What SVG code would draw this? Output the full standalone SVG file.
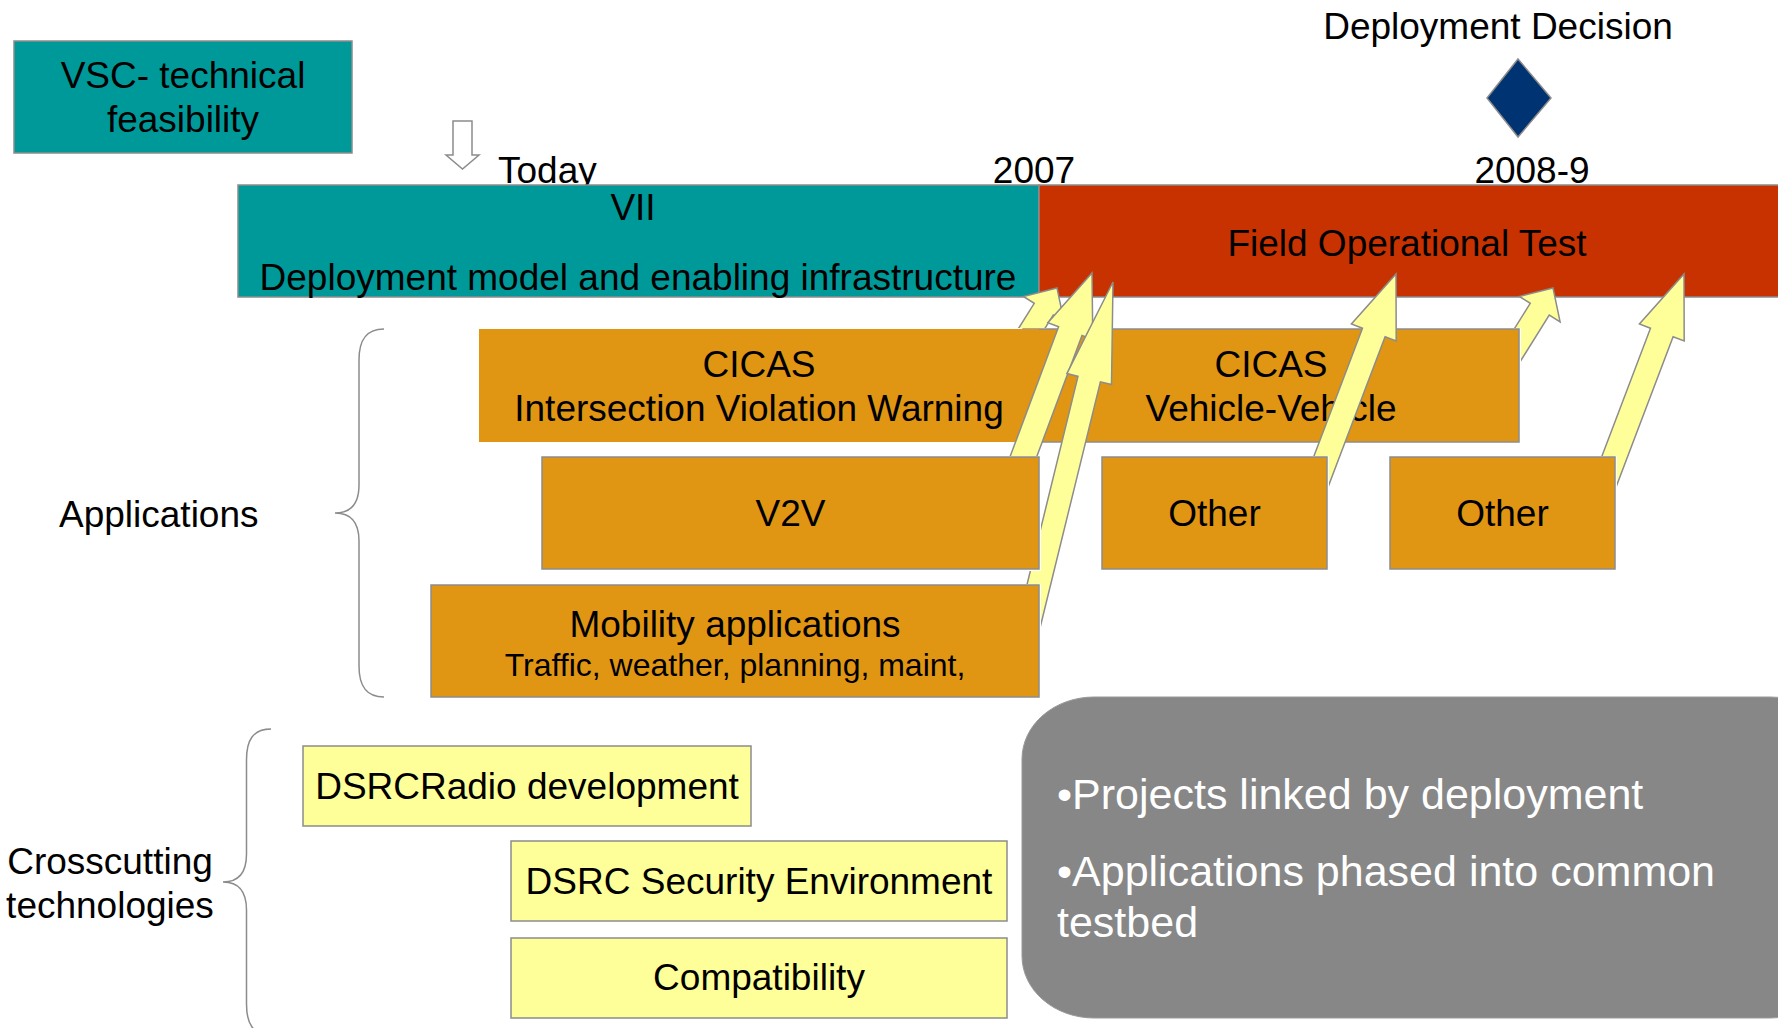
<svg xmlns="http://www.w3.org/2000/svg" width="1778" height="1028" viewBox="0 0 1778 1028">
<style>
text{font-family:"Liberation Sans",Arial,sans-serif;font-size:37px;fill:#000}
.c{text-anchor:middle}
.teal{fill:#009999;stroke:#8c8c8c;stroke-width:1.5}
.red{fill:#c83200;stroke:#8c8c8c;stroke-width:1.5}
.org{fill:#e09612;stroke:#8c8c8c;stroke-width:1.5}
.orgnb{fill:#e09612}
.yel{fill:#ffff99;stroke:#8c8c8c;stroke-width:1.5}
.arr{fill:#ffff99;stroke:#8c8c8c;stroke-width:1.5;stroke-linejoin:miter}
.brace{fill:none;stroke:#8c8c8c;stroke-width:1.5}
.wt{fill:#fff;font-size:43px}
</style>
<defs>
<clipPath id="clipA"><path clip-rule="evenodd" d="M0,0H1778V1028H0Z M478,328H1521V444H478Z"/></clipPath>
<clipPath id="clipD"><path clip-rule="evenodd" d="M0,0H1778V1028H0Z M1022,328H1521V444H1022Z"/></clipPath>
<clipPath id="clipB"><path clip-rule="evenodd" d="M0,0H1778V1028H0Z M541,456H1041V571H541Z"/></clipPath>
<clipPath id="clipC"><path clip-rule="evenodd" d="M0,0H1778V1028H0Z M541,456H1041V571H541Z M430,584H1041V699H430Z"/></clipPath>
<clipPath id="clipE"><path clip-rule="evenodd" d="M0,0H1778V1028H0Z M1101,456H1329V571H1101Z"/></clipPath>
<clipPath id="clipF"><path clip-rule="evenodd" d="M0,0H1778V1028H0Z M1389,456H1617V571H1389Z"/></clipPath>
</defs>
<rect width="1778" height="1028" fill="#fff"/>

<g id="vsc">
<rect class="teal" x="14" y="41" width="338" height="112"/>
<text class="c" x="183" y="88">VSC- technical</text>
<text class="c" x="183" y="132">feasibility</text>
</g>

<g id="today">
<polygon points="453,121 472,121 472,155 479,155 462.5,169 446,155 453,155" fill="#fff" stroke="#8c8c8c" stroke-width="1.5"/>
<text x="498" y="183">Today</text>
</g>
<g id="year2007"><text class="c" x="1034" y="183">2007</text></g>
<g id="year2008"><text class="c" x="1532" y="183">2008-9</text></g>

<g id="deployment-decision">
<polygon points="1518,59 1551,98 1518,137 1487,98" fill="#003371" stroke="#8c8c8c" stroke-width="1.5"/>
<text class="c" x="1498" y="39">Deployment Decision</text>
</g>

<g id="vii">
<rect class="teal" x="238" y="185" width="801" height="112"/>
<text class="c" x="633" y="220">VII</text>
<text class="c" x="638" y="290">Deployment model and enabling infrastructure</text>
</g>

<g id="fot">
<rect class="red" x="1039" y="185" width="745" height="112"/>
<text class="c" x="1407" y="256">Field Operational Test</text>
</g>

<g id="cicas-vv">
<rect class="org" x="1023" y="329" width="496" height="113"/>
<text class="c" x="1271" y="377">CICAS</text>
<text class="c" x="1271" y="421">Vehicle-Vehicle</text>
</g>

<g id="cicas-ivw">
<rect class="orgnb" x="479" y="329" width="560" height="113"/>
<text class="c" x="759" y="377">CICAS</text>
<text class="c" x="759" y="421">Intersection Violation Warning</text>
</g>

<g id="v2v">
<rect class="org" x="542" y="457" width="497" height="112"/>
<text class="c" x="790.5" y="526">V2V</text>
</g>

<g id="mobility">
<rect class="org" x="431" y="585" width="608" height="112"/>
<text class="c" x="735" y="637">Mobility applications</text>
<text class="c" x="735" y="676" style="font-size:32px">Traffic, weather, planning, maint,</text>
</g>

<g id="other1">
<rect class="org" x="1102" y="457" width="225" height="112"/>
<text class="c" x="1214.5" y="526">Other</text>
</g>

<g id="other2">
<rect class="org" x="1390" y="457" width="225" height="112"/>
<text class="c" x="1502.5" y="526">Other</text>
</g>

<g id="applications-label">
<path class="brace" d="M384,329 C366,329 359,340 359,360 L359,485 C359,505 350,513 335,513 C350,513 359,521 359,541 L359,666 C359,686 366,697 384,697"/>
<text x="59" y="527">Applications</text>
</g>

<g id="crosscutting-label">
<path class="brace" d="M271,729 C253,729 246.5,740 246.5,760 L246.5,854 C246.5,874 238,882 223,882 C238,882 246.5,890 246.5,910 L246.5,1004 C246.5,1024 253,1035 271,1035"/>
<text class="c" x="110" y="874">Crosscutting</text>
<text class="c" x="110" y="918">technologies</text>
</g>

<g id="dsrc-radio">
<rect class="yel" x="303" y="746" width="448" height="80"/>
<text class="c" x="527" y="799">DSRCRadio development</text>
</g>

<g id="dsrc-security">
<rect class="yel" x="511" y="841" width="496" height="80"/>
<text class="c" x="759" y="894">DSRC Security Environment</text>
</g>

<g id="compatibility">
<rect class="yel" x="511" y="938" width="496" height="80"/>
<text class="c" x="759" y="990">Compatibility</text>
</g>

<g id="notes">
<rect x="1022" y="697" width="820" height="321" rx="72" ry="62" fill="#878787" stroke="#999" stroke-width="1"/>
<text class="wt" x="1057" y="809">•Projects linked by deployment</text>
<text class="wt" x="1057" y="886">•Applications phased into common</text>
<text class="wt" x="1057" y="937">testbed</text>
</g>

<g id="connectors">
<polygon class="arr" clip-path="url(#clipA)" points="1057,288 1064.1,321.9 1053.25,315.1 1024.1,361.7 1005.1,349.9 1034.25,303.3 1023.4,296.5"/>
<polygon class="arr" clip-path="url(#clipD)" points="1553,288 1560.1,321.9 1549.25,315.1 1514.8,370.2 1495.8,358.4 1530.25,303.3 1519.4,296.5"/>
<polygon class="arr" clip-path="url(#clipB)" points="1092,273 1092.8,339.5 1082,335.5 1009.2,530.4 985.8,521.6 1058.6,326.7 1047.8,322.7"/>
<polygon class="arr" clip-path="url(#clipC)" points="1113,282 1111.5,384.6 1100.4,381.8 1034.9,648.8 1012.6,643.4 1078,376.4 1066.9,373.6"/>
<polygon class="arr" clip-path="url(#clipE)" points="1396,274 1396.2,341 1385.1,336.8 1311.45,530.75 1288.85,522.15 1362.5,328.2 1351.4,324"/>
<polygon class="arr" clip-path="url(#clipF)" points="1684,274 1684.2,341 1673.1,336.8 1599.45,530.75 1576.85,522.15 1650.5,328.2 1639.4,324"/>
</g>
</svg>
